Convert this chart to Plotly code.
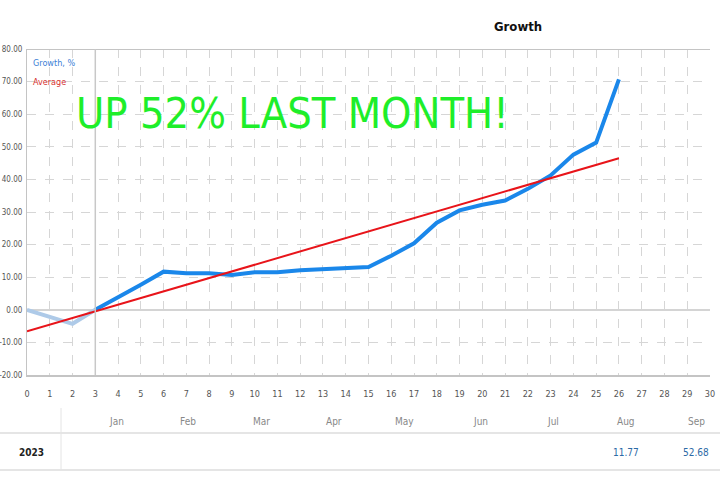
import plotly.graph_objects as go

# ---- data ----
weeks = list(range(0, 27))
growth = [0.0, -2.1, -4.3, 0.0, 3.7, 7.7, 11.7, 11.2, 11.2, 10.7, 11.5, 11.5, 12.1,
          12.5, 12.9, 13.1, 16.6, 20.4, 26.7, 30.5, 32.2, 33.5, 37.1, 41.2, 47.6, 51.3, 70.7]
avg_x = [0, 26]
avg_y = [-6.6, 46.5]
x_ticks = list(range(0, 31))
y_ticks = list(range(-20, 81, 10))
months = ["Jan", "Feb", "Mar", "Apr", "May", "Jun", "Jul", "Aug", "Sep"]
month_pos = [3.95, 7.07, 10.28, 13.5, 16.6, 19.9, 23.1, 26.3, 29.4]
year_label = "2023"
month_values = {"Aug": "11.77", "Sep": "52.68"}
headline = "UP 52% LAST MONTH!"

FONT = "DejaVu Sans Condensed, sans-serif"

fig = go.Figure()
split = 3
fig.add_trace(go.Scatter(x=weeks[:split + 1], y=growth[:split + 1], mode="lines",
                         line=dict(color="#aecae8", width=4), hoverinfo="skip"))
fig.add_trace(go.Scatter(x=weeks[split:], y=growth[split:], mode="lines",
                         line=dict(color="#1a87ea", width=4)))
fig.add_trace(go.Scatter(x=avg_x, y=avg_y, mode="lines",
                         line=dict(color="#e8141a", width=2)))

grid = "#d6d6d6"
fig.update_xaxes(range=[0, 30], tickvals=x_ticks, ticktext=[str(v) for v in x_ticks],
                 showgrid=True, gridcolor=grid, griddash="dash", gridwidth=1,
                 showline=True, linecolor="#c4c4c4", linewidth=2, zeroline=False,
                 ticks="", ticklabelstandoff=9, automargin=False,
                 tickfont=dict(family=FONT, size=9, color="#555555"))
fig.update_yaxes(range=[-20, 80], tickvals=y_ticks, ticktext=[f"{v:.2f}" for v in y_ticks],
                 showgrid=True, gridcolor=grid, griddash="dash", gridwidth=1,
                 showline=True, linecolor="#c4c4c4", linewidth=1,
                 zeroline=True, zerolinecolor="#d4d4d4", zerolinewidth=2,
                 ticks="", ticklabelstandoff=2, automargin=False,
                 tickfont=dict(family=FONT, size=8, color="#555555"))

shapes = [
    # top border
    dict(type="line", xref="paper", yref="y", x0=0, x1=1, y0=80, y1=80,
         line=dict(color="#c4c4c4", width=2)),
    # vertical marker at week 3
    dict(type="line", xref="x", yref="paper", x0=3, x1=3, y0=0, y1=1,
         line=dict(color="#c8c8c8", width=1.5)),
    # table lines
    dict(type="line", xref="paper", yref="paper", x0=-0.05, x1=1.05,
         y0=(375 - 433) / 326, y1=(375 - 433) / 326, line=dict(color="#dcdcdc", width=1.5)),
    dict(type="line", xref="paper", yref="paper", x0=-0.05, x1=1.05,
         y0=(375 - 470) / 326, y1=(375 - 470) / 326, line=dict(color="#dcdcdc", width=1.5)),
    dict(type="line", xref="paper", yref="paper", x0=(61 - 27) / 683, x1=(61 - 27) / 683,
         y0=(375 - 408) / 326, y1=(375 - 470) / 326, line=dict(color="#e4e4e4", width=1)),
]

ann = [
    dict(text="<b>Growth</b>", xref="paper", yref="paper", x=(518 - 27) / 683, y=(375 - 27) / 326,
         showarrow=False, font=dict(family=FONT, size=13, color="#111111"),
         xanchor="center", yanchor="middle"),
    dict(text="Growth, %", xref="paper", yref="paper", x=(31 - 27) / 683, y=(375 - 63) / 326,
         showarrow=False, font=dict(family=FONT, size=9, color="#3d7fd6"),
         xanchor="left", yanchor="middle"),
    dict(text="Average", xref="paper", yref="paper", x=(31 - 27) / 683, y=(375 - 82) / 326,
         showarrow=False, font=dict(family=FONT, size=9, color="#d62f2f"),
         xanchor="left", yanchor="middle"),
    dict(text=headline, xref="paper", yref="paper", x=(74 - 27) / 683, y=(375 - 113) / 326,
         showarrow=False, font=dict(family=FONT, size=43, color="#1eee2a"),
         xanchor="left", yanchor="middle"),
    dict(text="<b>" + year_label + "</b>", xref="paper", yref="paper", x=(31 - 27) / 683, y=(375 - 452) / 326,
         showarrow=False, font=dict(family=FONT, size=10, color="#222222"),
         xanchor="center", yanchor="middle"),
]
for m, p in zip(months, month_pos):
    ann.append(dict(text=m, xref="x", yref="paper", x=p, y=(375 - 421) / 326, showarrow=False,
                    font=dict(family=FONT, size=10, color="#888888"), xanchor="center", yanchor="middle"))
    if m in month_values:
        ann.append(dict(text=month_values[m], xref="x", yref="paper", x=p, y=(375 - 452) / 326,
                        showarrow=False, font=dict(family=FONT, size=10, color="#2c6aa6"),
                        xanchor="center", yanchor="middle"))

fig.update_layout(width=720, height=480, margin=dict(l=27, r=10, t=49, b=105),
                  paper_bgcolor="white", plot_bgcolor="white", showlegend=False,
                  shapes=shapes, annotations=ann)
# remove the default 8px page margin so the figure fills the 720x480 window exactly
fig.write_html("out.html", config={"displayModeBar": False},
               post_script="document.body.style.margin='0';")
